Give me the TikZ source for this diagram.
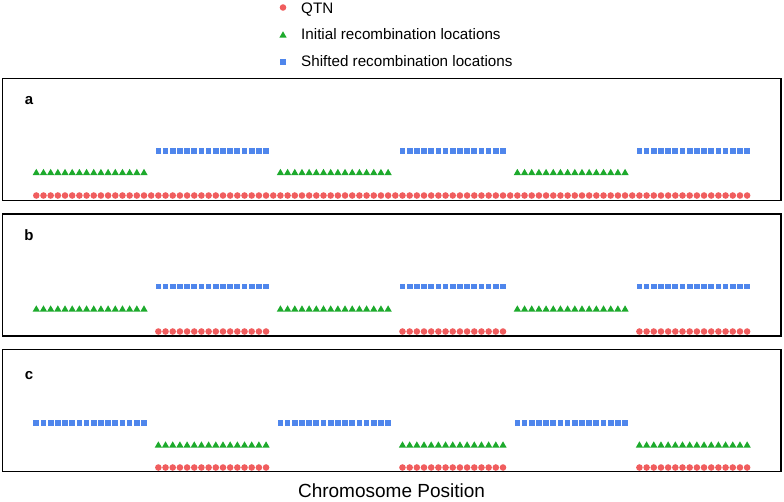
\documentclass[tikz,border=0pt]{standalone}
\usepackage{fontspec}
\setmainfont{Liberation Sans}
\usetikzlibrary{shapes.geometric}
\definecolor{QtnRed}{HTML}{F05D5E}
\definecolor{InitGreen}{HTML}{1DAA2C}
\definecolor{ShiftBlue}{HTML}{4F86EC}

\begin{document}
\begin{tikzpicture}[
  x=1pt, y=-1pt,
  qtn/.style={circle, fill=QtnRed, minimum size=6.6pt, inner sep=0pt},
  initloc/.style={regular polygon, regular polygon sides=3, fill=InitGreen, minimum size=8.4pt, inner sep=0pt},
  shiftloc/.style={rectangle, fill=ShiftBlue, minimum size=5.7pt, inner sep=0pt},
  panel/.style={draw, line width=1.5pt},
  legtext/.style={anchor=base west, inner sep=0pt, font=\fontsize{15.2}{18}\selectfont},
  tag/.style={anchor=base, inner sep=0pt, font=\fontsize{15}{18}\selectfont\bfseries}
]
  \useasboundingbox (0,0) rectangle (784,501);

  % legend
  \node[qtn] (legq) at (283,7.5) {};
  \node[legtext] (legqt) at (301,13.3) {QTN};
  \node[initloc] (legi) at (283,35.5) {};
  \node[legtext] (legit) at (301,39.6) {Initial recombination locations};
  \node[shiftloc] (legs) at (283,62) {};
  \node[legtext] (legst) at (301,66.8) {Shifted recombination locations};

  % panel a
  \draw[panel] (2.5,78.5) rectangle (781,200.5);
  \node[tag] (taga) at (29,104.3) {a};
  \foreach \s/\e in {17/32,51/65,84/99}
    \foreach \i in {\s,...,\e}
      \node[shiftloc] (sa\i) at (36.3+7.18*\i,151) {};
  \foreach \s/\e in {0/15,34/49,67/82}
    \foreach \i in {\s,...,\e}
      \node[initloc] (ia\i) at (36.3+7.18*\i,173) {};
  \foreach \i in {0,...,99}
    \node[qtn] (qa\i) at (36.3+7.18*\i,195.5) {};

  % panel b
  \draw[panel] (2.5,214) rectangle (781,336);
  \node[tag] (tagb) at (29,240.8) {b};
  \foreach \s/\e in {17/32,51/65,84/99}
    \foreach \i in {\s,...,\e}
      \node[shiftloc] (sb\i) at (36.3+7.18*\i,286.5) {};
  \foreach \s/\e in {0/15,34/49,67/82}
    \foreach \i in {\s,...,\e}
      \node[initloc] (ib\i) at (36.3+7.18*\i,309.5) {};
  \foreach \s/\e in {17/32,51/65,84/99}
    \foreach \i in {\s,...,\e}
      \node[qtn] (qb\i) at (36.3+7.18*\i,331.5) {};

  % panel c
  \draw[panel] (2.5,349.5) rectangle (781,471.5);
  \node[tag] (tagc) at (29,379.3) {c};
  \foreach \s/\e in {0/15,34/49,67/82}
    \foreach \i in {\s,...,\e}
      \node[shiftloc] (sc\i) at (36.3+7.18*\i,423) {};
  \foreach \s/\e in {17/32,51/65,84/99}
    \foreach \i in {\s,...,\e}
      \node[initloc] (ic\i) at (36.3+7.18*\i,445.5) {};
  \foreach \s/\e in {17/32,51/65,84/99}
    \foreach \i in {\s,...,\e}
      \node[qtn] (qc\i) at (36.3+7.18*\i,467.5) {};

  \node[anchor=base, inner sep=0pt, font=\fontsize{19}{22}\selectfont] (xlab) at (391.5,497.5) {Chromosome Position};
\end{tikzpicture}
\end{document}
